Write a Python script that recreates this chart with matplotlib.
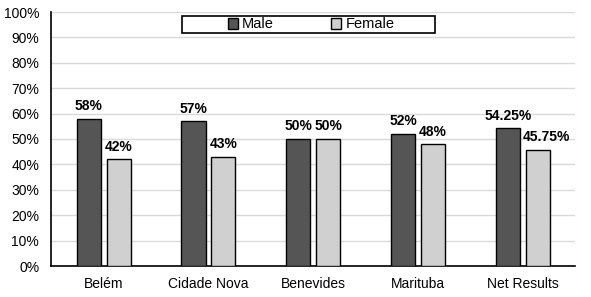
import matplotlib.pyplot as plt
from matplotlib.patches import Rectangle
from matplotlib.ticker import PercentFormatter
import numpy as np

plt.rcParams["font.family"] = ["Liberation Sans", "DejaVu Sans"]

categories = ["Belém", "Cidade Nova", "Benevides", "Marituba", "Net Results"]
male = [58, 57, 50, 52, 54.25]
female = [42, 43, 50, 48, 45.75]
male_labels = ["58%", "57%", "50%", "52%", "54.25%"]
female_labels = ["42%", "43%", "50%", "48%", "45.75%"]

fig = plt.figure(figsize=(5.91, 2.97), dpi=100)
ax = fig.add_axes([51 / 591, 1 - 266 / 297, 524 / 591, 254 / 297])

x = np.arange(len(categories))
w = 0.23
b1 = ax.bar(x - 0.14, male, w, color="#555555", edgecolor="black", linewidth=1, label="Male", zorder=3)
b2 = ax.bar(x + 0.145, female, w, color="#d0d0d0", edgecolor="black", linewidth=1, label="Female", zorder=3)

for rect, lab in zip(b1, male_labels):
    ax.annotate(lab, (rect.get_x() + rect.get_width() / 2, rect.get_height()),
                xytext=(0, 4), textcoords="offset points", ha="center", va="bottom",
                fontsize=10, fontweight="bold")
for i, (rect, lab) in enumerate(zip(b2, female_labels)):
    dx = 6 if i == 4 else 0
    ax.annotate(lab, (rect.get_x() + rect.get_width() / 2, rect.get_height()),
                xytext=(dx, 4), textcoords="offset points", ha="center", va="bottom",
                fontsize=10, fontweight="bold")

ax.set_xlim(-0.5, len(categories) - 0.5)
ax.set_ylim(0, 100)
ax.set_yticks(range(0, 101, 10))
ax.yaxis.set_major_formatter(PercentFormatter(decimals=0))
ax.set_xticks(x)
ax.set_xticklabels(categories)
ax.tick_params(axis="both", length=0, labelsize=10)
ax.tick_params(axis="y", pad=8.5)
ax.tick_params(axis="x", pad=8)
ax.grid(axis="y", color="#d9d9d9", linewidth=1, zorder=0)
ax.set_axisbelow(True)
for s in ["top", "right"]:
    ax.spines[s].set_visible(False)
ax.spines["left"].set_linewidth(1.2)
ax.spines["bottom"].set_linewidth(1.2)

# legend box
fig.patches.append(Rectangle((182 / 591, 1 - 33 / 297), 253 / 591, 17 / 297,
                             transform=fig.transFigure, facecolor="white",
                             edgecolor="black", linewidth=1.2, zorder=5))
leg = fig.legend(handles=[b1, b2], loc="center", bbox_to_anchor=(311 / 591, 1 - 24.5 / 297),
                 ncol=2, frameon=False, fontsize=10.5, handlelength=0.7, handleheight=0.7,
                 handletextpad=0.3, columnspacing=3.9, borderpad=0)
leg.set_zorder(6)

fig.savefig("out.png", dpi=100)
